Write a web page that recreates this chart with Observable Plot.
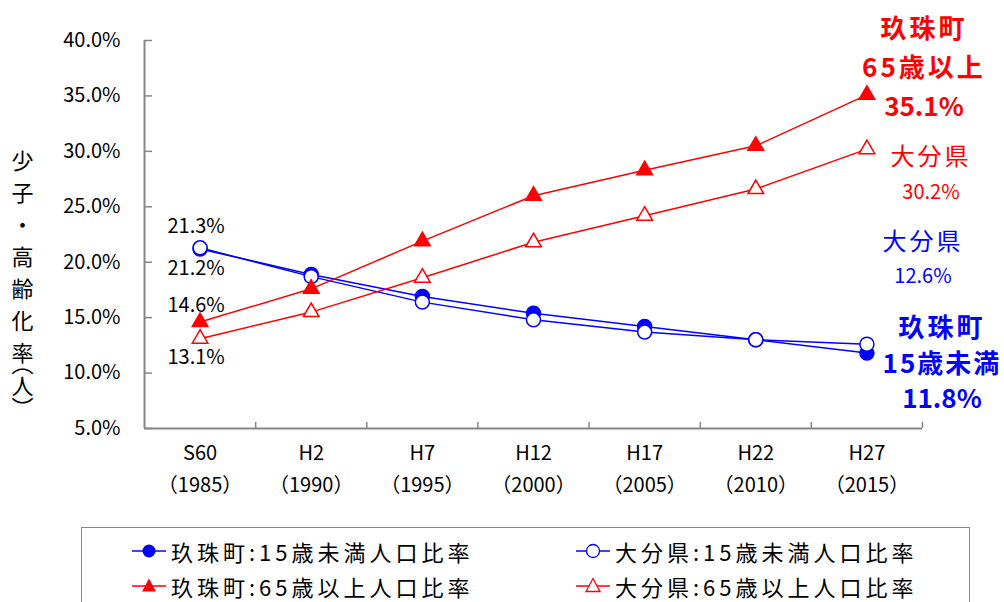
<!DOCTYPE html>
<html><head><meta charset="utf-8">
<script src="https://cdn.jsdelivr.net/npm/d3@7"></script>
<script src="https://cdn.jsdelivr.net/npm/@observablehq/plot@0.6"></script>
<style>
body{margin:0;background:#fff;width:1004px;height:602px;overflow:hidden;position:relative;font-family:"Noto Sans CJK JP",sans-serif;}
#chart{position:absolute;left:0;top:0;}
#legend{position:absolute;left:81px;top:527px;width:889px;height:90px;border:1.5px solid #888;box-sizing:border-box;background:#fff;}
.item{position:absolute;display:flex;align-items:center;font-size:22px;letter-spacing:4px;color:#000;height:30px;font-family:"Noto Sans CJK JP",sans-serif;}
.item svg{margin-right:5px;}
</style></head><body>
<div id="chart"></div>
<div id="legend"></div>
<script>
// ---- data ----
const categories = ["S60","H2","H7","H12","H17","H22","H27"];
const years = ["1985","1990","1995","2000","2005","2010","2015"];
const seriesNames = ["玖珠町:15歳未満人口比率","大分県:15歳未満人口比率","玖珠町:65歳以上人口比率","大分県:65歳以上人口比率"];
const kusuYoung = [21.2,18.9,16.9,15.4,14.2,13.0,11.8];
const oitaYoung = [21.3,18.7,16.4,14.8,13.7,13.0,12.6];
const kusuOld   = [14.6,17.6,21.9,26.0,28.3,30.5,35.1];
const oitaOld   = [13.1,15.5,18.6,21.8,24.2,26.6,30.2];
const yTicks = [5,10,15,20,25,30,35,40];
const yLabelParts = ["少子・高齢化", "率", "（人）"];
const yLabel = yLabelParts.join("");

// ---- styling (separate from data) ----
const BLUE = "#0000ff", RED = "#ff0000", AXIS = "#868686";
const seriesColors = [BLUE, BLUE, RED, RED];
const seriesValues = [kusuYoung, oitaYoung, kusuOld, oitaOld];
const rows = seriesNames.flatMap((s, k) => seriesValues[k].map((v, i) => ({series: s, i, v})));
const last = arr => [{i: arr.length - 1, v: arr[arr.length - 1]}];
const first = arr => [{i: 0, v: arr[0]}];
const pct = v => v.toFixed(1) + "%";
const boundaries = categories.map((c, i) => i + 0.5);
const FONT = '"Noto Sans CJK JP",sans-serif';

const chart = Plot.plot({
  width: 1004, height: 520,
  marginLeft: 144, marginRight: 82, marginTop: 40, marginBottom: 92,
  style: {fontFamily: FONT, fontSize: "20px", background: "white", color: "#000", overflow: "visible"},
  x: {type: "linear", domain: [-0.5, categories.length - 0.5], label: null},
  y: {domain: [5, 40], label: null},
  color: {domain: seriesNames, range: seriesColors},
  marks: [
    // axes
    Plot.axisY({ticks: yTicks, tickSize: 8, dx: 8, stroke: AXIS, strokeWidth: 1.5, tickFormat: () => "", label: null}),
    Plot.axisY({ticks: yTicks, tickSize: 0, tickPadding: 24, tickFormat: pct, label: null, fill: "#000", fontSize: 20}),
    Plot.axisX({ticks: boundaries, tickSize: 6, dy: -6, stroke: AXIS, strokeWidth: 1.5, tickFormat: () => "", label: null}),
    Plot.axisX({ticks: categories.map((c, i) => i), tickSize: 0, tickPadding: 8, lineHeight: 1.62, fontSize: 20,
      tickFormat: i => `${categories[i]}\n（${years[i]}）`, label: null, fill: "#000"}),
    Plot.ruleX([-0.5], {stroke: AXIS, strokeWidth: 2}),
    Plot.ruleY([5], {stroke: AXIS, strokeWidth: 2}),
    // lines
    Plot.line(rows, {x: "i", y: "v", z: "series", stroke: "series", strokeWidth: 1.5}),
    // markers
    Plot.dot(rows.filter(d => d.series === seriesNames[0]), {x: "i", y: "v", r: 7, fill: BLUE, stroke: BLUE, symbol: "circle"}),
    Plot.dot(rows.filter(d => d.series === seriesNames[1]), {x: "i", y: "v", r: 7, fill: "white", stroke: BLUE, strokeWidth: 1.5, symbol: "circle"}),
    Plot.dot(rows.filter(d => d.series === seriesNames[2]), {x: "i", y: "v", r: 5.8, fill: RED, stroke: RED, symbol: "triangle"}),
    Plot.dot(rows.filter(d => d.series === seriesNames[3]), {x: "i", y: "v", r: 5.8, fill: "white", stroke: RED, strokeWidth: 1.5, symbol: "triangle"}),
    // left value labels (S60)
    Plot.text(first(oitaYoung), {x: "i", y: "v", text: d => pct(d.v), dx: -4, dy: -21, fontSize: 20, fill: "#000"}),
    Plot.text(first(kusuYoung), {x: "i", y: "v", text: d => pct(d.v), dx: -4, dy: 20, fontSize: 20, fill: "#000"}),
    Plot.text(first(kusuOld), {x: "i", y: "v", text: d => pct(d.v), dx: -4, dy: -16, fontSize: 20, fill: "#000"}),
    Plot.text(first(oitaOld), {x: "i", y: "v", text: d => pct(d.v), dx: -4, dy: 19, fontSize: 20, fill: "#000"}),
    // right annotations (H27)
    Plot.text(last(kusuOld), {x: "i", y: "v", text: d => `玖珠町\n65歳以上\n${pct(d.v)}`, dx: 57, dy: -30,
      fontSize: 26, fontWeight: "bold", fill: RED, lineHeight: 1.5}),
    Plot.text(last(oitaOld), {x: "i", y: "v", text: () => "大分県", dx: 64, dy: 8, fontSize: 24, fill: RED}),
    Plot.text(last(oitaOld), {x: "i", y: "v", text: d => pct(d.v), dx: 64, dy: 43, fontSize: 20, fill: RED}),
    Plot.text(last(oitaYoung), {x: "i", y: "v", text: () => "大分県", dx: 56, dy: -102, fontSize: 24, fill: BLUE}),
    Plot.text(last(oitaYoung), {x: "i", y: "v", text: d => pct(d.v), dx: 56, dy: -68, fontSize: 20, fill: BLUE}),
    Plot.text(last(kusuYoung), {x: "i", y: "v", text: d => `玖珠町\n15歳未満\n${pct(d.v)}`, dx: 75, dy: 8,
      fontSize: 26, fontWeight: "bold", fill: BLUE, lineHeight: 1.38}),
    // y axis title
    Plot.text([yLabel], {frameAnchor: "left", text: d => d, dx: -122, dy: 37, fontSize: 22, textAnchor: "middle", fill: "#000"})
  ]
});
document.getElementById("chart").appendChild(chart);

// letter spacing for Japanese text lines, vertical y label
d3.select(chart).selectAll("text").each(function() {
  const t = this.textContent;
  if (t === yLabel) {
    this.textContent = "";
    this.setAttribute("style", "writing-mode: vertical-rl; font-family: 'Noto Sans CJK JP', sans-serif");
    const ns = "http://www.w3.org/2000/svg";
    const styles = ["letter-spacing:10px", "letter-spacing:0px", "letter-spacing:0px; font-feature-settings:'vhal' 1"];
    yLabelParts.forEach((part, k) => {
      const s = document.createElementNS(ns, "tspan");
      s.textContent = part; s.setAttribute("style", styles[k]);
      this.appendChild(s);
    });
    return;
  }
  const spans = this.querySelectorAll("tspan");
  if (spans.length) spans.forEach(s => { if (/[玖大歳]/.test(s.textContent)) s.style.letterSpacing = /未満/.test(s.textContent) ? "2px" : "3px"; });
  else if (/[玖大歳]/.test(t)) this.style.letterSpacing = "3px";
});

// ---- legend ----
const legendPos = [[50, 8], [494, 8], [50, 43], [494, 43]];
const legendSymbols = [
  c => `<circle cx="17" cy="10" r="6.5" fill="${c}"/>`,
  c => `<circle cx="17" cy="10" r="6.5" fill="white" stroke="${c}" stroke-width="1.3"/>`,
  c => `<path d="M17,2.5L24,15.5L10,15.5Z" fill="${c}"/>`,
  c => `<path d="M17,2.5L24,15.5L10,15.5Z" fill="white" stroke="${c}" stroke-width="1.3"/>`
];
const legend = document.getElementById("legend");
seriesNames.forEach((name, k) => {
  const c = seriesColors[k];
  const div = document.createElement("div");
  div.className = "item";
  div.style.left = legendPos[k][0] + "px";
  div.style.top = legendPos[k][1] + "px";
  div.innerHTML = `<svg width="34" height="20"><line x1="0" y1="10" x2="34" y2="10" stroke="${c}" stroke-width="1.5"/>${legendSymbols[k](c)}</svg><span>${name}</span>`;
  legend.appendChild(div);
});
</script>
</body></html>
